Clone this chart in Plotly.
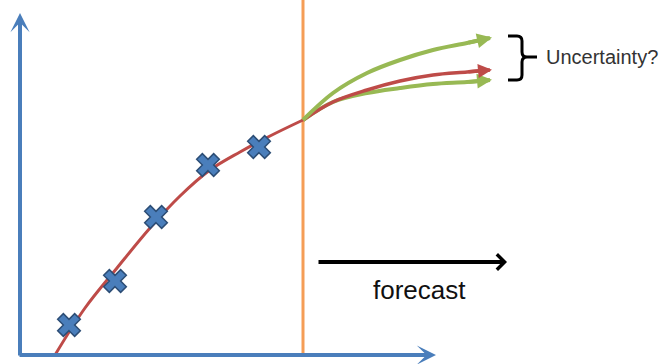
import plotly.graph_objects as go

# Observed data points (time, value)
obs_t = [49, 95, 136, 188, 239]
obs_v = [30, 74, 138, 190, 208]

# Fitted model curve through the observations
fit_t = [35, 65, 97, 130, 160, 190, 220, 250, 283]
fit_v = [0, 47, 87, 127, 159, 185, 203, 219, 235]

# Forecast start
forecast_start = 283
forecast_top = 355

# Forecast curves
fc_t = [283, 313, 347, 380, 413, 447, 470]
fc_mid = [235, 253, 265, 274, 280, 283, 285]
fc_upper = [235, 262, 282, 295, 305, 312, 317]
fc_lower = [235, 253, 262, 267, 271, 273, 275]

BLUE = "#4A7EBB"
RED = "#BE4B48"
GREEN = "#98B954"
ORANGE = "#F59D56"

fig = go.Figure()

# forecast divider
fig.add_shape(type="line", x0=forecast_start, x1=forecast_start, y0=0, y1=forecast_top,
              xref="x", yref="y", line=dict(color=ORANGE, width=3), layer="below")

fig.add_trace(go.Scatter(x=fit_t, y=fit_v, mode="lines",
                         line=dict(color=RED, width=3, shape="spline", smoothing=1.0),
                         hoverinfo="skip", showlegend=False))
fig.add_trace(go.Scatter(x=fc_t, y=fc_lower, mode="lines", line=dict(color=GREEN, width=4, shape="spline"),
                         hoverinfo="skip", showlegend=False))
fig.add_trace(go.Scatter(x=fc_t, y=fc_mid, mode="lines", line=dict(color=RED, width=3.5, shape="spline"),
                         hoverinfo="skip", showlegend=False))
fig.add_trace(go.Scatter(x=fc_t, y=fc_upper, mode="lines", line=dict(color=GREEN, width=4, shape="spline"),
                         hoverinfo="skip", showlegend=False))
fig.add_trace(go.Scatter(x=obs_t, y=obs_v, mode="markers",
                         marker=dict(symbol="x", size=20, color=BLUE, line=dict(color="#2C4D75", width=1.5)),
                         hoverinfo="skip", showlegend=False))

def arrow(x0, y0, x1, y1, color, width, head, size):
    fig.add_annotation(x=x1, y=y1, ax=x0, ay=y0, xref="x", yref="y", axref="x", ayref="y",
                       text="", showarrow=True, arrowhead=head, arrowsize=size,
                       arrowwidth=width, arrowcolor=color, standoff=0, startstandoff=0)

# axes
arrow(0, -2, 0, 342, BLUE, 4, 3, 0.8)
arrow(-2, 0, 416, 0, BLUE, 4, 3, 0.8)

# arrow tips on forecast curves
arrow(fc_t[-2], fc_upper[-2], fc_t[-1] + 2, fc_upper[-1] + 0.5, GREEN, 4, 2, 0.75)
arrow(fc_t[-2], fc_lower[-2], fc_t[-1] + 2, fc_lower[-1] + 0.2, GREEN, 4, 2, 0.75)
arrow(fc_t[-2], fc_mid[-2], fc_t[-1] + 2, fc_mid[-1] + 0.3, RED, 3.5, 2, 0.8)

# forecast arrow
arrow(297, 93, 487, 93, "black", 4, 4, 0.75)
fig.add_annotation(x=399, y=65, xref="x", yref="y", text="forecast", showarrow=False,
                   font=dict(family="Liberation Sans, Arial", size=26, color="#111111"))

# brace
fig.add_shape(type="path", xref="x", yref="y",
              path="M 488,319 L 497,319 Q 502,319 502,314 L 502,303 Q 502,298 507,298 L 517,298 "
                   "M 507,298 Q 502,298 502,293 L 502,280 Q 502,275 497,275 L 488,275",
              line=dict(color="black", width=3))
fig.add_annotation(x=524, y=298, xref="x", yref="y", text="Uncertainty?", showarrow=False,
                   xanchor="left", font=dict(family="Liberation Sans, Arial", size=20, color="#333333"))

fig.update_layout(width=665, height=364, margin=dict(l=0, r=0, t=0, b=0),
                  plot_bgcolor="white", paper_bgcolor="white",
                  xaxis=dict(range=[-20, 645], visible=False, fixedrange=True),
                  yaxis=dict(range=[-9, 355], visible=False, fixedrange=True))

fig.write_html("out.html", config={"displayModeBar": False},
               post_script="document.body.style.margin='0';document.body.style.overflow='hidden';")
